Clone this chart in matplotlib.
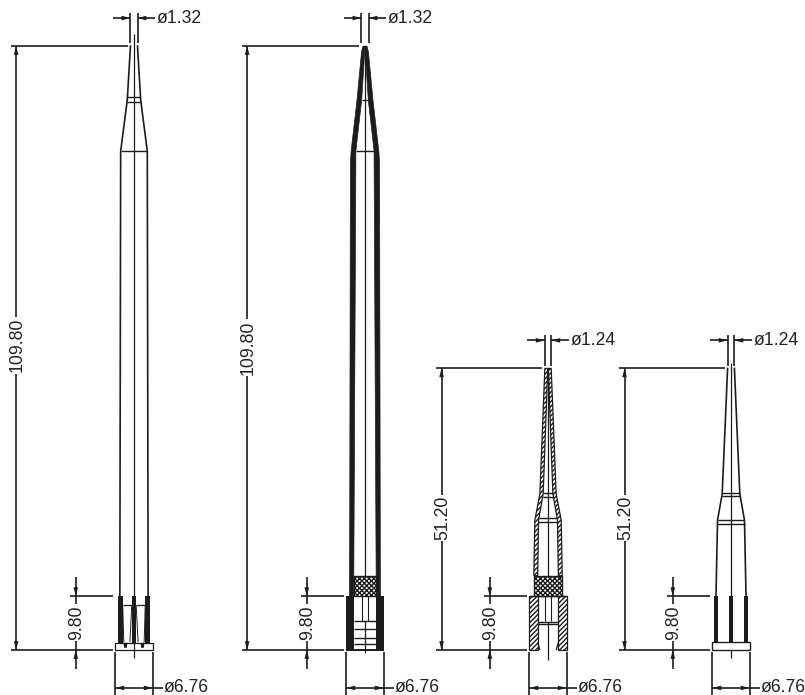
import matplotlib
matplotlib.use("Agg")
import matplotlib.pyplot as plt

# everything is in mm, the drawing is 5.5 px per mm
px_per_mm = 5.5
centres = [24.36, 66.36, 99.64, 132.91]
tip_lengths = [109.80, 109.80, 51.20, 51.20]
tip_diameters = [1.32, 1.32, 1.24, 1.24]
base_diameter = 6.76
collar_height = 9.80
length_dim_offset = [-21.42, -21.42, -19.36, -19.36]
length_text_height = [55.4, 55.0, 24.0, 24.0]
collar_dim_offset = -10.58

# outer profiles, height above base / half width
tip1_h = [109.80, 100.0, 90.7, 9.80]
tip1_w = [0.64, 1.22, 2.42, 2.57]
tip2_h = [109.80, 108.8, 100.0, 90.7, 88.5, 9.80]
tip2_w = [0.35, 0.62, 1.45, 2.52, 2.65, 2.80]
tip2_inner_w = [0.0, 0.05, 0.60, 1.66, 1.66, 2.05]
tip3_h = [51.20, 28.4, 23.6, 13.5]
tip3_w = [0.58, 1.48, 2.40, 2.58]
tip3_inner_w = [0.05, 0.88, 1.72, 1.88]
tip4_h = [51.20, 28.4, 23.6, 9.80]
tip4_w = [0.62, 1.60, 2.45, 2.73]

ring_lines_1 = [(100.5, 1.18), (99.6, 1.24), (90.7, 2.42)]
ring_lines_2 = [(100.0, 0.60), (90.7, 1.66)]
ring_lines_3 = [(28.6, 0.88), (27.9, 0.95), (24.0, 1.72), (23.2, 1.75)]
ring_lines_4 = [(28.6, 1.58), (28.0, 1.62), (23.6, 2.45), (23.0, 2.47)]

line_col = "#1c1c1c"
lw = 1.2

plt.rcParams["font.family"] = ["Liberation Sans", "DejaVu Sans"]
plt.rcParams["hatch.linewidth"] = 1.0

fig = plt.figure(figsize=(8.05, 6.95), dpi=100)
ax = fig.add_axes([0, 0, 1, 1])
ax.set_xlim(0, 805 / px_per_mm)
ax.set_ylim(-45 / px_per_mm, 650 / px_per_mm)
ax.axis("off")


def seg(x0, y0, x1, y1, width=lw, z=2):
    ax.plot([x0, x1], [y0, y1], color=line_col, lw=width, solid_capstyle="butt", zorder=z)


def arrow(x, y, dx, dy):
    # small filled head with its point at x,y
    ln, hw = 1.6, 0.42
    ax.fill([x, x - dx * ln - dy * hw, x - dx * ln + dy * hw],
            [y, y - dy * ln + dx * hw, y - dy * ln - dx * hw],
            color=line_col, lw=0, zorder=3)


def label(x, y, s, rotation=0, ha="center", white=False):
    box = dict(fc="white", ec="none", pad=0.8) if white else None
    ax.text(x, y, s, fontsize=12.7, color="#222222", rotation=rotation, ha=ha, va="center",
            rotation_mode="anchor", bbox=box, zorder=4)


def profile(c, hs, ws, width=lw):
    ax.plot([c - w for w in ws], hs, color=line_col, lw=width, zorder=2)
    ax.plot([c + w for w in ws], hs, color=line_col, lw=width, zorder=2)


def wall(c, hs, outer, inner, **kw):
    for s in (-1, 1):
        xs = [c + s * w for w in outer] + [c + s * w for w in inner[::-1]]
        ax.fill(xs, hs + hs[::-1], zorder=2, **kw)


def rings(c, lines):
    for h, w in lines:
        seg(c - w, h, c + w, h, width=1.0)


def knurl(c, w):
    ax.fill([c - w, c + w, c + w, c - w], [9.9, 9.9, 13.5, 13.5], fc="white", ec=line_col,
            hatch="xxxxxxx", lw=1.0, zorder=2)


def top_dim(c, top, d):
    y = top + 5.1
    for s in (-1, 1):
        x = c + s * d / 2
        seg(x, top + 0.5, x, top + 6.0)
        seg(x, y, x + s * 3.2, y)
        arrow(x, y, -s, 0)
    label(c + d / 2 + 3.5, y, "\u00f8%.2f" % d, ha="left")


def base_dim(c):
    y = -6.9
    x0, x1 = c - base_diameter / 2, c + base_diameter / 2
    seg(x0, -0.3, x0, -8.2)
    seg(x1, -0.3, x1, -8.2)
    seg(x0, y, x1 + 1.9, y)
    arrow(x0, y, -1, 0)
    arrow(x1, y, 1, 0)
    label(x1 + 2.0, y, "\u00f8%.2f" % base_diameter, ha="left")


def length_dim(c, off, top, text_h):
    x = c + off
    seg(x - 1.0, top, c - 1.1, top)
    seg(x - 1.0, 0, c - 3.9, 0)
    seg(x, 0, x, top, z=1)
    arrow(x, top, 0, 1)
    arrow(x, 0, 0, -1)
    label(x + 0.15, text_h, "%.2f" % top, rotation=90, white=True)


def collar_dim(c):
    x = c + collar_dim_offset
    seg(x - 1.0, collar_height, c - 3.9, collar_height)
    seg(x, -3.5, x, collar_height + 3.5, z=1)
    arrow(x, collar_height, 0, -1)
    arrow(x, 0, 0, 1)
    label(x + 0.15, collar_height / 2 + 0.05, "%.2f" % collar_height, rotation=90, white=True)


# tip 1
c = centres[0]
profile(c, tip1_h, tip1_w)
rings(c, ring_lines_1)
seg(c, -1.4, c, 112.0, width=0.9)
ax.fill([c - 0.4, c + 0.4, c + 0.4, c - 0.4], [1.2, 1.2, 9.8, 9.8], color=line_col, lw=0, zorder=2)
for s in (-1, 1):
    ax.fill([c + s * 2.05, c + s * 2.9, c + s * 2.9, c + s * 2.05], [1.3, 1.3, 9.8, 9.8],
            color=line_col, lw=0, zorder=2)
    seg(c + s * 2.05, 8.1, c + s * 0.4, 8.1, width=0.9)
    seg(c + s * 2.05, 8.1, c + s * 1.85, 1.4, width=0.7)
    seg(c + s * 0.4, 8.1, c + s * 0.75, 1.4, width=0.7)
    ax.fill([c + s * 1.2, c + s * 1.9, c + s * 1.8, c + s * 1.3], [1.3, 1.3, 0.4, 0.4],
            color=line_col, lw=0, zorder=2)
ax.fill([c - 3.38, c + 3.38, c + 3.38, c - 3.38], [0, 0, 1.25, 1.25], fc="none", ec=line_col, lw=0.9, zorder=2)

# tip 2
c = centres[1]
wall(c, tip2_h, tip2_w, tip2_inner_w, color=line_col, lw=0.5)
rings(c, ring_lines_2)
knurl(c, 2.05)
seg(c, 13.5, c, 109.8, width=0.9)
seg(c, -0.6, c, 5.2, width=0.9)
for s in (-1, 1):
    seg(c + s * 0.55, 5.2, c + s * 0.55, 9.9, width=0.8)
    ax.fill([c + s * 2.05, c + s * 3.38, c + s * 3.38, c + s * 2.05], [0, 0, 9.8, 9.8],
            color=line_col, lw=0, zorder=2)
for h in [5.2, 3.85, 2.2, 1.1]:
    seg(c - 2.05, h, c + 2.05, h, width=1.0)
seg(c - 3.38, 0, c + 3.38, 0, width=1.4)

# tip 3
c = centres[2]
wall(c, tip3_h, tip3_w, tip3_inner_w, fc="white", ec=line_col, hatch="///////", lw=0.9)
rings(c, ring_lines_3)
knurl(c, 2.55)
seg(c, 13.5, c, 51.2, width=0.9)
seg(c, -1.9, c, 5.1, width=0.9)
for s in (-1, 1):
    seg(c + s * 0.55, 5.2, c + s * 0.55, 9.8, width=0.8)
    ax.fill([c + s * 1.87, c + s * 3.38, c + s * 3.38, c + s * 1.87], [0, 0, 9.8, 9.8], fc="white",
            ec=line_col, hatch="///////", lw=0.9, zorder=2)
seg(c - 1.87, 5.15, c + 1.87, 5.15, width=1.0)
seg(c - 1.87, 4.7, c + 1.87, 4.7, width=1.0)
seg(c - 3.38, 9.8, c + 3.38, 9.8, width=1.0)
seg(c - 1.87, 1.4, c - 1.5, 0, width=0.9)
seg(c + 1.87, 1.4, c + 1.5, 0, width=0.9)

# tip 4
c = centres[3]
profile(c, tip4_h, tip4_w)
rings(c, ring_lines_4)
seg(c, -1.4, c, 52.2, width=0.9)
for bar in (-2.7, 0, 2.7):
    ax.fill([c + bar - 0.42, c + bar + 0.42, c + bar + 0.42, c + bar - 0.42], [1.5, 1.5, 9.8, 9.8],
            color=line_col, lw=0, zorder=2)
ax.fill([c - 3.38, c + 3.38, c + 3.38, c - 3.38], [0, 0, 1.5, 1.5], fc="white", ec=line_col, lw=1.0, zorder=2)

for i in range(4):
    c = centres[i]
    top_dim(c, tip_lengths[i], tip_diameters[i])
    length_dim(c, length_dim_offset[i], tip_lengths[i], length_text_height[i])
    collar_dim(c)
    base_dim(c)

fig.savefig("out.png", dpi=100)
